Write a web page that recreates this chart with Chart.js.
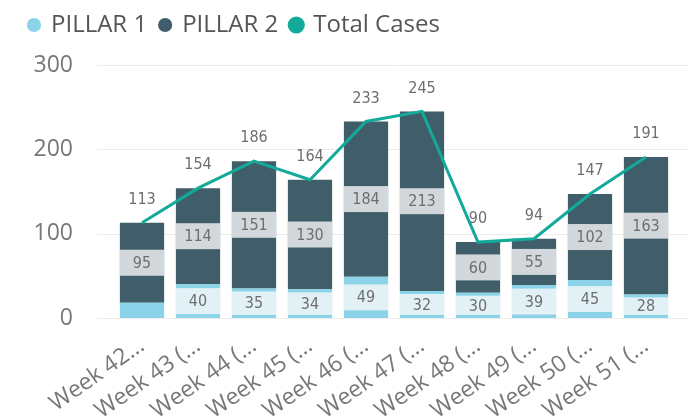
<!DOCTYPE html>
<html>
<head>
<meta charset="utf-8">
<script src="https://cdn.jsdelivr.net/npm/chart.js@4/dist/chart.umd.min.js"></script>
<style>
  html, body { margin: 0; padding: 0; background: #fff; }
  #wrap { width: 697px; height: 418px; }
</style>
</head>
<body>
<div id="wrap"><canvas id="chart"></canvas></div>
<script>
// data
const WEEKS = ['Week 42...', 'Week 43 (...', 'Week 44 (...', 'Week 45 (...', 'Week 46 (...',
               'Week 47 (...', 'Week 48 (...', 'Week 49 (...', 'Week 50 (...', 'Week 51 (...'];
const PILLAR_1 = [18, 40, 35, 34, 49, 32, 30, 39, 45, 28];
const PILLAR_2 = [95, 114, 151, 130, 184, 213, 60, 55, 102, 163];
const TOTAL_CASES = [113, 154, 186, 164, 233, 245, 90, 94, 147, 191];
const Y_TICKS = [0, 100, 200, 300];

const LABEL_FONT = '16px "DejaVu Sans Condensed", "Liberation Sans Narrow", Roboto, sans-serif';
const AXIS_FONT = '"Open Sans", "Noto Sans", sans-serif';

/* ---------- extra room under the legend ---------- */
const legendGap = {
    id: 'legendGap',
    beforeInit(chart) {
        const fit = chart.legend.fit;
        chart.legend.fit = function () {
            fit.bind(chart.legend)();
            this.height += 18;
        };
    }
};

/* ---------- grid lines, a bit wider than the plot area ---------- */
const wideGrid = {
    id: 'wideGrid',
    beforeDatasetsDraw(chart) {
        const { ctx, chartArea, scales } = chart;
        ctx.save();
        ctx.strokeStyle = '#ececec';
        ctx.lineWidth = 1;
        Y_TICKS.forEach(v => {
            const y = Math.round(scales.y.getPixelForValue(v)) + 0.5;
            ctx.beginPath();
            ctx.moveTo(chartArea.left - 17, y);
            ctx.lineTo(chartArea.right + 14, y);
            ctx.stroke();
        });
        ctx.restore();
    }
};

/* ---------- value labels ---------- */
const valueLabels = {
    id: 'valueLabels',
    afterDatasetDraw(chart, args) {
        if (args.meta.type !== 'bar') return;
        const ctx = chart.ctx;
        const values = chart.data.datasets[args.index].data;
        ctx.save();
        ctx.font = LABEL_FONT;
        ctx.textAlign = 'center';
        ctx.textBaseline = 'middle';
        args.meta.data.forEach((bar, i) => {
            const h = Math.abs(bar.base - bar.y);
            if (h < 22) return; // too small, Power BI hides it
            const bh = Math.min(26, h - 6);
            const cy = (bar.y + bar.base) / 2;
            ctx.fillStyle = 'rgba(250,250,250,0.78)';
            ctx.fillRect(bar.x - bar.width / 2, cy - bh / 2, bar.width, bh);
            ctx.fillStyle = '#6e6e6e';
            ctx.fillText(values[i], bar.x, cy + 1);
        });
        ctx.restore();
    },
    afterDatasetsDraw(chart) {
        const ctx = chart.ctx;
        const meta = chart.getDatasetMeta(2);
        ctx.save();
        ctx.font = LABEL_FONT;
        ctx.textAlign = 'center';
        ctx.textBaseline = 'middle';
        ctx.fillStyle = '#6e6e6e';
        meta.data.forEach((pt, i) => {
            ctx.fillText(TOTAL_CASES[i], pt.x, pt.y - 23);
        });
        ctx.restore();
    }
};

new Chart(document.getElementById('chart'), {
    data: {
        labels: WEEKS,
        datasets: [
            {
                type: 'bar', label: 'PILLAR 1', data: PILLAR_1,
                backgroundColor: '#8ad3e8', order: 1,
                barPercentage: 0.79, categoryPercentage: 1
            },
            {
                type: 'bar', label: 'PILLAR 2', data: PILLAR_2,
                backgroundColor: '#3f5e69', order: 1,
                barPercentage: 0.79, categoryPercentage: 1
            },
            {
                type: 'line', label: 'Total Cases', data: TOTAL_CASES,
                borderColor: '#14aa9b', backgroundColor: '#14aa9b',
                borderWidth: 3, pointRadius: 0, tension: 0, order: 0
            }
        ]
    },
    options: {
        responsive: true,
        maintainAspectRatio: false,
        animation: false,
        layout: { padding: { left: 16, right: 23, top: 0, bottom: 0 } },
        plugins: {
            tooltip: { enabled: false },
            legend: {
                position: 'top',
                align: 'start',
                labels: {
                    usePointStyle: true,
                    pointStyle: 'circle',
                    boxWidth: 10,
                    boxHeight: 10,
                    padding: 13,
                    color: '#555',
                    font: { family: AXIS_FONT, size: 24 },
                    sort: (a, b) => a.datasetIndex - b.datasetIndex
                }
            }
        },
        scales: {
            x: {
                stacked: true,
                grid: { display: false },
                border: { display: false },
                afterFit: axis => { axis.height = 100; },
                ticks: {
                    autoSkip: false,
                    color: '#777',
                    font: { family: AXIS_FONT, size: 23 },
                    minRotation: 35, maxRotation: 35,
                    padding: 6
                }
            },
            y: {
                stacked: true,
                min: 0, max: 300,
                grid: { display: false },
                border: { display: false },
                afterFit: axis => { axis.width = 98; },
                ticks: {
                    stepSize: 100,
                    color: '#777',
                    font: { family: AXIS_FONT, size: 23 },
                    padding: 33
                }
            }
        }
    },
    plugins: [legendGap, wideGrid, valueLabels]
});
</script>
</body>
</html>
